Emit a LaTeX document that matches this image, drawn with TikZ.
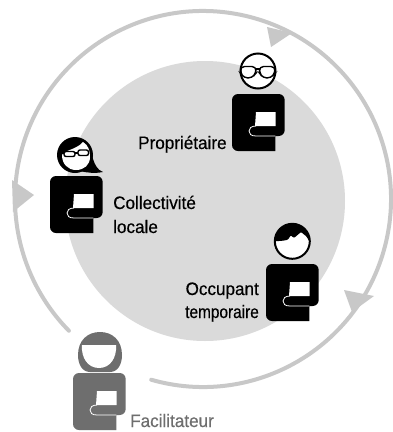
\documentclass[tikz,border=0pt]{standalone}
\usepackage{fontspec}
\usepackage{graphicx}
\setmainfont[FakeStretch=0.95,FakeBold=0.4]{Liberation Sans}
\definecolor{ringgray}{HTML}{C8C8C8}
\definecolor{discgray}{HTML}{DADADA}
\definecolor{facgray}{HTML}{6E6E6E}
\tikzset{
  ring/.style={draw=ringgray,line width=4pt,line cap=round},
  ringhead/.style={fill=ringgray},
  lbl/.style={font=\fontsize{18}{20}\selectfont,inner sep=0pt,text=black},
  lblgray/.style={lbl,text=facgray}
}
\newcommand\personbody[3]{%
\begin{scope}[shift={(#1,#2)}]
\fill[#3,rounded corners=6pt] (0,28)--(0,0)--(52.7,0)--(52.7,42)[sharp corners]--(43.3,42)--(43.3,57)[rounded corners=6pt]--(0,57)--cycle;
\fill[white] (24,18)--(43.5,18)--(43.5,32)--(23,32)--cycle;
\draw[white,line width=0.8pt] (24,32) .. controls (19,32) and (17,34.5) .. (17,37) .. controls (17,40) and (19,42) .. (24,42) -- (43.3,42);
\end{scope}}
\begin{document}
\begin{tikzpicture}[x=1pt,y=-1pt]
\useasboundingbox (0,0) rectangle (393,432);
\fill[white] (0,0) rectangle (393,432);
\fill[discgray] (205,201) circle[radius=140];
\draw[ring] (203,199) ++(106:188) arc[start angle=106,end angle=-224.5,radius=188];
\fill[ringhead] (267,27)--(292,33)--(271,47)--cycle;
\fill[ringhead] (12,180)--(34,195)--(13,212)--cycle;
\fill[ringhead] (344,290)--(374,296)--(352,312)--cycle;
% Proprietaire
\personbody{232}{94}{black}
\draw[black,line width=2pt,fill=white] (258,71) circle[radius=17.5];
\draw[black,line width=1.4pt,rounded corners=4pt] (240.5,66.5) -- (256,66.5) -- (256,73) -- (252,78) -- (244,78) -- (240.5,73) -- cycle;
\draw[black,line width=1.4pt,rounded corners=4pt] (259.5,66.5) -- (275,66.5) -- (275,73) -- (271,78) -- (263,78) -- (259.5,73) -- cycle;
\draw[black,line width=1.4pt] (256,69) -- (259.5,69);
% Collectivite
\personbody{50}{176}{black}
\fill[black] (75,155) circle[radius=18];
\fill[black] (88,145) .. controls (93,152) and (92,168) .. (103,172) .. controls (95,173.5) and (88,173) .. (80,171) -- cycle;
\fill[white] (62,155) .. controls (64,150) and (76,150) .. (83,142) .. controls (88,145) and (90,150) .. (90,157) .. controls (90,165) and (84,170) .. (76,170) .. controls (68,170) and (62,164) .. (62,155) -- cycle;
\draw[black,line width=1.4pt,fill=white,rounded corners=2pt] (64,151.5) rectangle (75,156.5);
\draw[black,line width=1.4pt,fill=white,rounded corners=2pt] (78,150) rectangle (88.5,155.5);
\draw[black,line width=1.4pt] (61,153) -- (64,153) (75,153) -- (78,153);
% Occupant
\personbody{266}{264}{black}
\draw[black,line width=2pt,fill=white] (292.3,241.3) circle[radius=17.5];
\fill[black,rounded corners=1pt] (275.3,241.3) arc[start angle=180,end angle=360,radius=17] -- (306.5,236.5) -- (301,232) -- (294,238) -- (290.7,235.3) -- (288,239.7) -- (283,240.7) -- cycle;
% Facilitateur
\personbody{73}{373}{facgray}
\fill[facgray] (78,355) .. controls (78,340) and (88,332) .. (100,332) .. controls (112,332) and (122,340) .. (122,355) .. controls (122,364) and (118,372) .. (110,372) -- (90,372) .. controls (82,372) and (78,364) .. (78,355) -- cycle;
\fill[white] (82,345) -- (116,345) .. controls (117,358) and (110,368) .. (99,368) .. controls (88,368) and (81,358) .. (82,345) -- cycle;
% labels
\node[lbl,anchor=base west] (prop) at (138,149) {Propriétaire};
\node[lbl,anchor=base west] (coll) at (113,209) {Collectivité};
\node[lbl,anchor=base west] (loc) at (113,233) {locale};
\node[lbl,anchor=base east] (occ) at (259,295) {Occupant};
\node[lbl,anchor=base east] (temp) at (259,318) {\scalebox{0.9}[1]{temporaire}};
\node[lblgray,anchor=base west] (fac) at (130,427) {Facilitateur};
\end{tikzpicture}
\end{document}
